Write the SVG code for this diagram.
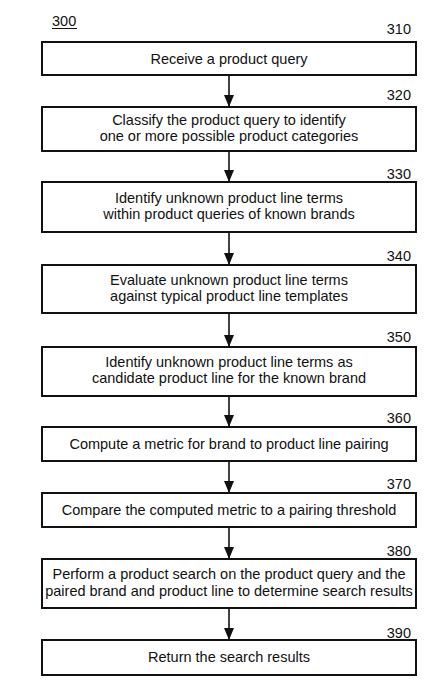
<svg xmlns="http://www.w3.org/2000/svg" width="431" height="683" viewBox="0 0 431 683">
<style>
.box{fill:#fff;stroke:#111;stroke-width:2}
.t{font-family:"Liberation Sans",Arial,sans-serif;font-size:14.5px;fill:#111;text-anchor:middle}
.n{font-family:"Liberation Sans",Arial,sans-serif;font-size:14.5px;fill:#111;text-anchor:end}
.c{stroke:#111;stroke-width:1.6;fill:none}
</style>
<defs>
<marker id="arr" viewBox="0 0 12 10" refX="12" refY="5" markerWidth="12" markerHeight="10" orient="auto" markerUnits="userSpaceOnUse">
<path d="M0,0 L12,5 L0,10 Z" fill="#111"/>
</marker>
</defs>
<rect width="431" height="683" fill="#fff"/>
<g id="title">
<text x="52" y="26" font-family="Liberation Sans,Arial,sans-serif" font-size="14.5" fill="#111">300</text>
<line x1="52" y1="28.5" x2="77" y2="28.5" stroke="#111" stroke-width="1"/>
</g>
<g id="connectors">
<line class="c" x1="229" y1="75" x2="229" y2="107" marker-end="url(#arr)"/>
<line class="c" x1="229" y1="151" x2="229" y2="182" marker-end="url(#arr)"/>
<line class="c" x1="229" y1="232" x2="229" y2="265" marker-end="url(#arr)"/>
<line class="c" x1="229" y1="313" x2="229" y2="347" marker-end="url(#arr)"/>
<line class="c" x1="229" y1="396" x2="229" y2="427" marker-end="url(#arr)"/>
<line class="c" x1="229" y1="461" x2="229" y2="493" marker-end="url(#arr)"/>
<line class="c" x1="229" y1="527" x2="229" y2="559" marker-end="url(#arr)"/>
<line class="c" x1="229" y1="608" x2="229" y2="640" marker-end="url(#arr)"/>
</g>
<g id="n310">
<rect class="box" x="42" y="42" width="374" height="33"/>
<text class="n" x="411" y="34">310</text>
<text class="t" x="229" y="63.5">Receive a product query</text>
</g>
<g id="n320">
<rect class="box" x="42" y="107" width="374" height="44"/>
<text class="n" x="411" y="100">320</text>
<text class="t" x="229" y="125">Classify the product query to identify</text>
<text class="t" x="229" y="141">one or more possible product categories</text>
</g>
<g id="n330">
<rect class="box" x="42" y="182" width="374" height="50"/>
<text class="n" x="411" y="179">330</text>
<text class="t" x="229" y="203">Identify unknown product line terms</text>
<text class="t" x="229" y="219">within product queries of known brands</text>
</g>
<g id="n340">
<rect class="box" x="42" y="265" width="374" height="48"/>
<text class="n" x="411" y="261">340</text>
<text class="t" x="229" y="285">Evaluate unknown product line terms</text>
<text class="t" x="229" y="301">against typical product line templates</text>
</g>
<g id="n350">
<rect class="box" x="42" y="347" width="374" height="49"/>
<text class="n" x="411" y="342">350</text>
<text class="t" x="229" y="367">Identify unknown product line terms as</text>
<text class="t" x="229" y="383">candidate product line for the known brand</text>
</g>
<g id="n360">
<rect class="box" x="42" y="427" width="374" height="34"/>
<text class="n" x="411" y="423">360</text>
<text class="t" x="229" y="449">Compute a metric for brand to product line pairing</text>
</g>
<g id="n370">
<rect class="box" x="42" y="493" width="374" height="34"/>
<text class="n" x="411" y="489">370</text>
<text class="t" x="229" y="515">Compare the computed metric to a pairing threshold</text>
</g>
<g id="n380">
<rect class="box" x="42" y="559" width="374" height="49"/>
<text class="n" x="411" y="556">380</text>
<text class="t" x="229" y="579">Perform a product search on the product query and the</text>
<text class="t" x="229" y="596">paired brand and product line to determine search results</text>
</g>
<g id="n390">
<rect class="box" x="42" y="640" width="374" height="35"/>
<text class="n" x="411" y="638">390</text>
<text class="t" x="229" y="662">Return the search results</text>
</g>
</svg>
